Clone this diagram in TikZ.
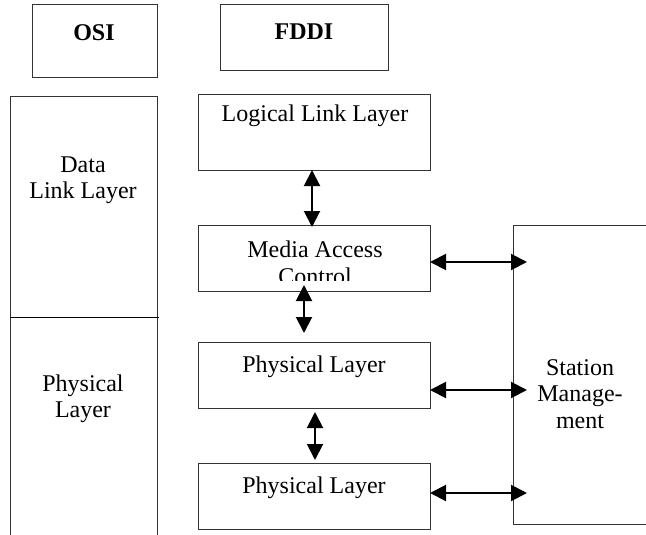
\documentclass[tikz,border=0pt]{standalone}
\usepackage{fontspec}
\setmainfont{Liberation Serif}
\usetikzlibrary{arrows.meta,calc}
\begin{document}
\begin{tikzpicture}[x=1pt,y=-1pt,
  box/.style={draw=black!80, line width=1pt, inner sep=0pt, outer sep=0pt, anchor=north west},
  lbl/.style={font=\fontsize{24}{26.5}\selectfont, align=center, inner sep=0pt},
  hdr/.style={font=\fontsize{24}{27}\selectfont\bfseries, inner sep=0pt},
  arr/.style={line width=2pt, >={Triangle[length=16pt,width=16pt]}, <->}]
\useasboundingbox (0,0) rectangle (646,535);
% header boxes
\node[box, minimum width=125pt, minimum height=73pt] (osi) at (32,5) {};
\node[box, minimum width=168pt, minimum height=66pt] (fddi) at (220,5) {};
\node[hdr] (osit) at (94,33) {OSI};
\node[hdr] (fddit) at (304,32) {FDDI};
% OSI column
\draw[draw=black!80, line width=1pt] (10,550) -- (10,97) -- (157,97) -- (157,550);
\draw[line width=1pt] (10,317) -- (159,317);
\node[lbl] (dll) at (83,180) {Data\\Link Layer};
\node[lbl] (phyo) at (83,399) {Physical\\Layer};
% FDDI boxes
\node[box, minimum width=232pt, minimum height=75pt] (llc) at (198,95) {};
\node[box, minimum width=232pt, minimum height=66pt] (mac) at (198,225) {};
\node[box, minimum width=232pt, minimum height=66pt] (ph1) at (198,342) {};
\node[box, minimum width=232pt, minimum height=66pt] (ph2) at (198,463) {};
\node[inner sep=0pt, outer sep=0pt, anchor=north west, minimum width=160pt, minimum height=299pt] (sm) at (513,225) {};
\draw[draw=black!80, line width=1pt] (sm.north east) -- (sm.north west) -- (sm.south west) -- (sm.south east);
\node[lbl] (llct) at (315,116) {Logical Link Layer};
\begin{scope}
\clip ([yshift=11pt]mac.south west) rectangle (mac.north east);
\node[lbl] (mact) at (315,263) {Media Access\\Control};
\end{scope}
\node[lbl] (ph1t) at (314,367) {Physical Layer};
\node[lbl] (ph2t) at (314,488) {Physical Layer};
\node[lbl] (smt) at (580,394) {Station\\Manage-\\ment};
% vertical arrows
\draw[arr] ([xshift=-2pt]llc.south) -- ([xshift=-2pt,yshift=-2pt]mac.north);
\draw[arr] ([xshift=-10pt,yshift=6pt]mac.south) -- ([xshift=-10pt,yshift=9pt]ph1.north);
\draw[arr] ([xshift=1pt,yshift=-4pt]ph1.south) -- ([xshift=1pt,yshift=3pt]ph2.north);
% horizontal arrows
\draw[arr, shorten >=-14pt] ([yshift=-4pt]mac.east) -- ([yshift=-4pt]mac.east -| sm.west);
\draw[arr, shorten >=-14pt] ([yshift=-15pt]ph1.east) -- ([yshift=-15pt]ph1.east -| sm.west);
\draw[arr, shorten >=-14pt] ([yshift=3pt]ph2.east) -- ([yshift=3pt]ph2.east -| sm.west);
\end{tikzpicture}
\end{document}
